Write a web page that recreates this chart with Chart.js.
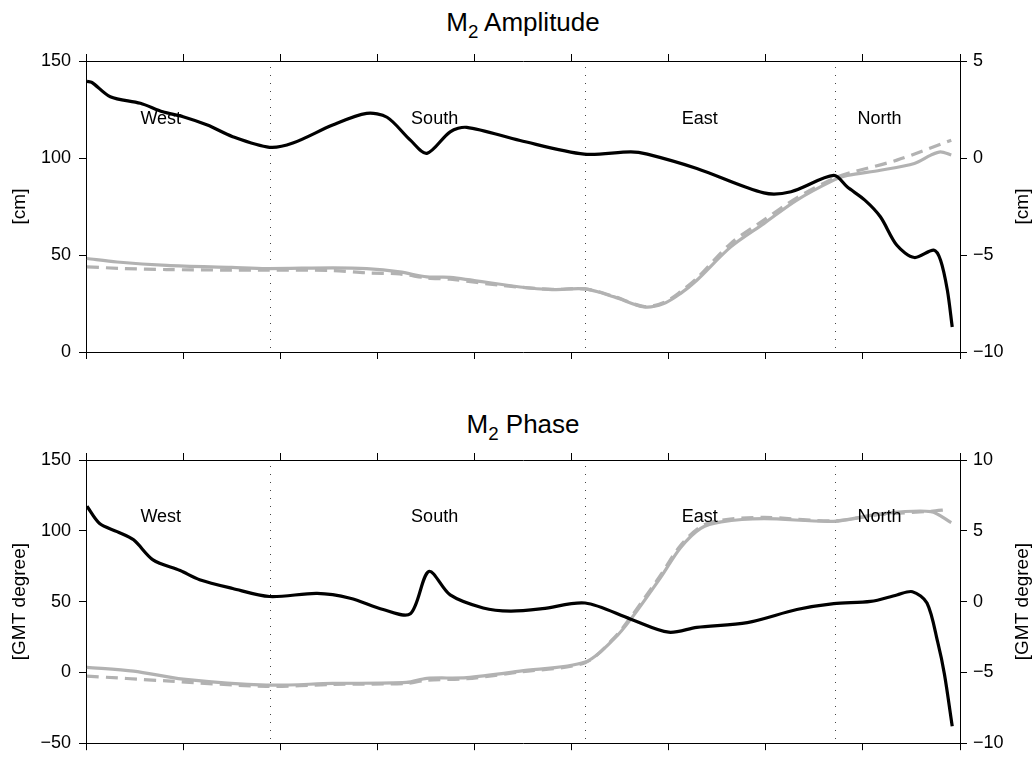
<!DOCTYPE html>
<html><head><meta charset="utf-8">
<script src="https://cdn.jsdelivr.net/npm/chart.js@4.4.1/dist/chart.umd.min.js"></script>
<style>
html,body{margin:0;padding:0;background:#fff;}
body{width:1034px;height:762px;position:relative;overflow:hidden;font-family:"Liberation Sans",Arial,Helvetica,sans-serif;}
.ttl{position:absolute;left:86px;width:874px;text-align:center;font-size:26px;line-height:28px;color:#000;white-space:nowrap;}
.ttl sub{font-size:0.72em;vertical-align:-0.4em;line-height:0;}
.box{position:absolute;left:0;width:1034px;}
</style></head><body>
<div class="ttl" style="top:8px">M<sub>2</sub> Amplitude</div>
<div class="box" style="top:40px;height:340px"><canvas id="c1"></canvas></div>
<div class="ttl" style="top:410px">M<sub>2</sub> Phase</div>
<div class="box" style="top:439px;height:323px"><canvas id="c2"></canvas></div>
<script>
// ---------- data ----------
const regionNames = ['West', 'South', 'East', 'North'];
const regionBounds = [1.895, 5.136, 7.717];
const regionLabelX = [0.77, 3.59, 6.32, 8.17];

// Amplitude: gray lines on left axis [cm], black difference on right axis [cm]
const ampSolidX = [0.01,0.32,0.83,1.5,1.86,2.54,2.89,3.23,3.51,3.75,4.47,4.8,5.14,5.44,5.75,5.95,6.12,6.29,6.64,6.98,7.32,7.70,7.84,8.18,8.53,8.70,8.80,8.91];
const ampSolidY = [48.2,46.4,44.7,43.6,43.0,43.4,43.0,41.3,38.7,38.5,33.5,32.2,32.5,28.4,23.2,25.0,30.1,37.0,54.2,66.2,78.3,88.6,91.0,93.7,97.2,101.5,103.2,101.5];
const ampDashX = [0.01,0.4,0.83,1.5,1.86,2.54,2.89,3.23,3.51,3.75,4.3,4.8,5.14,5.44,5.75,5.95,6.12,6.29,6.64,6.98,7.32,7.70,7.84,8.35,8.91];
const ampDashY = [43.9,43.0,42.5,42.2,42.2,42.0,40.8,40.2,38.2,37.5,34.2,32.3,32.5,28.6,23.4,25.5,31.0,38.0,56.0,68.0,79.5,89.5,92.0,98.9,109.2];
const ampDiffX = [0.01,0.06,0.25,0.56,0.79,1.0,1.25,1.51,1.89,2.13,2.54,2.89,3.10,3.34,3.51,3.75,3.92,4.47,5.13,5.61,5.78,6.29,6.98,7.26,7.70,7.84,8.02,8.18,8.35,8.53,8.73,8.80,8.87,8.92];
const ampDiffY = [3.95,3.9,3.16,2.82,2.38,2.13,1.7,1.1,0.55,0.77,1.7,2.3,2.1,0.92,0.24,1.35,1.58,0.9,0.2,0.32,0.2,-0.54,-1.8,-1.74,-0.9,-1.5,-2.17,-3.03,-4.5,-5.13,-4.75,-5.27,-6.82,-8.71];

// Phase: gray lines on left axis [GMT degree], black difference on right axis
const phSolidX = [0.01,0.49,1.0,1.86,2.54,3.30,3.51,3.92,4.47,5.14,5.44,5.61,5.92,6.12,6.33,6.54,6.98,7.70,8.18,8.70,8.91];
const phSolidY = [3.6,0.9,-4.8,-9.0,-7.8,-7.1,-4.2,-3.7,0.9,7.3,23.8,37.6,67.3,87.9,101.7,106.3,108.6,106.7,112.0,113.6,105.8];
const phDashX = [0.01,0.83,1.86,2.54,3.30,3.51,3.92,4.47,5.14,5.44,5.61,5.92,6.12,6.33,6.54,6.98,7.70,8.18,8.70,8.87];
const phDashY = [-2.6,-6.0,-9.9,-8.5,-7.8,-5.5,-4.5,0.3,6.9,24.5,39.0,69.0,89.5,103.0,107.5,109.5,107.0,111.5,113.8,114.9];
const phDiffX = [0.01,0.14,0.32,0.49,0.69,0.97,1.17,1.51,1.89,2.38,2.72,3.06,3.34,3.53,3.75,4.09,4.37,4.70,5.14,5.61,6.00,6.29,6.81,7.32,7.70,8.08,8.35,8.51,8.66,8.77,8.84,8.92];
const phDiffY = [6.73,5.51,4.94,4.36,2.95,2.19,1.55,0.93,0.36,0.58,0.24,-0.56,-0.86,2.13,0.47,-0.45,-0.67,-0.5,-0.1,-1.24,-2.16,-1.82,-1.48,-0.56,-0.14,0.01,0.47,0.7,-0.1,-2.85,-5.14,-8.8];

// ---------- helpers ----------
const FONT = '"Liberation Sans", Arial, Helvetica, sans-serif';
const GRAY = '#b2b2b2';
const pts = (xs, ys) => xs.map((x, i) => ({x: x, y: ys[i]}));
const fmt = v => (v < 0 ? '\u2212' + Math.abs(v) : String(v));

const overlay = {
  id: 'overlay',
  beforeDatasetsDraw(chart, args, o) {
    const {ctx, chartArea: a, scales} = chart;
    ctx.save();
    ctx.strokeStyle = '#444';
    ctx.lineWidth = 1;
    ctx.setLineDash([1, 7]);
    o.bounds.forEach(b => {
      const px = Math.round(scales.x.getPixelForValue(b)) + 0.5;
      ctx.beginPath();
      ctx.moveTo(px, a.top + 6);
      ctx.lineTo(px, a.bottom - 3);
      ctx.stroke();
    });
    ctx.restore();
  },
  afterDatasetsDraw(chart, args, o) {
    const {ctx, chartArea: a, scales} = chart;
    ctx.save();
    ctx.fillStyle = '#000';
    ctx.font = '18px ' + FONT;
    ctx.textAlign = 'center';
    ctx.textBaseline = 'middle';
    o.names.forEach((n, i) => {
      ctx.fillText(n, scales.x.getPixelForValue(o.labelX[i]), scales.y.getPixelForValue(o.labelY));
    });
    ctx.translate(chart.width - 11, (a.top + a.bottom) / 2);
    ctx.rotate(-Math.PI / 2);
    ctx.font = '19px ' + FONT;
    ctx.fillText(o.rightTitle, 0, 0);
    ctx.restore();
  }
};

function xAxis(pos, h) {
  return {
    type: 'linear', position: pos, min: 0, max: 9,
    ticks: {stepSize: 1, display: false},
    grid: {drawOnChartArea: false, drawTicks: true, tickLength: 7, color: '#000', lineWidth: 1},
    border: {display: true, color: '#000', width: 1},
    afterFit: s => { s.height = h; }
  };
}
function yAxis(pos, min, max, step, w, title) {
  return {
    type: 'linear', position: pos, min: min, max: max,
    ticks: {stepSize: step, color: '#000', font: {family: FONT, size: 18}, padding: pos === 'left' ? 8 : 6, callback: fmt},
    grid: {drawOnChartArea: false, drawTicks: true, tickLength: 7, color: '#000', lineWidth: 1},
    border: {display: true, color: '#000', width: 1},
    title: {display: !!title, text: title || '', color: '#000', font: {family: FONT, size: 19}, padding: {top: 8, bottom: 0}},
    afterFit: s => { s.width = w; }
  };
}
function lineDs(data, color, axis, dash, order) {
  return {
    data: data, yAxisID: axis, xAxisID: 'x',
    borderColor: color, borderWidth: 3.2, borderDash: dash || [],
    pointRadius: 0, fill: false, tension: 0.3, order: order,
    borderCapStyle: 'butt', borderJoinStyle: 'round'
  };
}
function makeChart(id, ds, yl, yr, topH, botH, axTitle, labelY) {
  return new Chart(document.getElementById(id), {
    type: 'line',
    data: {datasets: ds},
    options: {
      responsive: true, maintainAspectRatio: false, animation: false, devicePixelRatio: 1,
      layout: {padding: 0},
      scales: {
        x: xAxis('bottom', botH),
        x2: xAxis('top', topH),
        y: yAxis('left', yl[0], yl[1], yl[2], 86, axTitle),
        y2: yAxis('right', yr[0], yr[1], yr[2], 74, null)
      },
      plugins: {
        legend: {display: false}, tooltip: {enabled: false}, title: {display: false},
        overlay: {bounds: regionBounds, names: regionNames, labelX: regionLabelX, labelY: labelY, rightTitle: axTitle}
      }
    },
    plugins: [overlay]
  });
}

makeChart('c1', [
  lineDs(pts(ampDiffX, ampDiffY), '#000', 'y2', null, 0),
  lineDs(pts(ampSolidX, ampSolidY), GRAY, 'y', null, 1),
  lineDs(pts(ampDashX, ampDashY), GRAY, 'y', [12, 7], 2)
], [0, 150, 50], [-10, 5, 5], 21, 28, '[cm]', 120);

makeChart('c2', [
  lineDs(pts(phDiffX, phDiffY), '#000', 'y2', null, 0),
  lineDs(pts(phSolidX, phSolidY), GRAY, 'y', null, 1),
  lineDs(pts(phDashX, phDashY), GRAY, 'y', [12, 7], 2)
], [-50, 150, 50], [-10, 10, 5], 21, 11, '[GMT degree]', 110);
</script>
</body></html>
